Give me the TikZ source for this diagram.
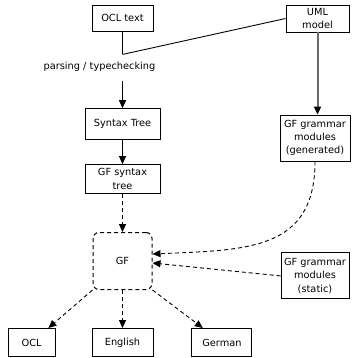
\documentclass[tikz,border=0pt]{standalone}
\usepackage{fontspec}
\setmainfont{DejaVu Sans}
\usetikzlibrary{arrows.meta,positioning}

\definecolor{umlgray}{RGB}{105,105,105}

\begin{document}
\begin{tikzpicture}[
        x=1pt, y=1pt,
        box/.style={
            draw,
            line width=0.9pt,
            align=center,
            inner sep=1pt,
            font=\fontsize{9.8}{13.3}\selectfont
        },
        label/.style={
            align=center,
            inner sep=0pt,
            font=\fontsize{9.8}{13.3}\selectfont
        },
        gfbox/.style={
            box,
            line width=1pt,
            dash pattern=on 4pt off 3pt,
            rounded corners=6pt
        },
        flow/.style={-{Triangle[length=8pt,width=7pt]},line width=0.9pt},
        dflow/.style={flow,dash pattern=on 4pt off 3pt},
        gflow/.style={-{Triangle[length=8pt,width=7pt,color=black]},
            draw=umlgray,line width=2pt},
        node distance=24pt
    ]

        \path[use as bounding box] (0,0) rectangle (351,-358);

        \node[box, minimum width=61pt, minimum height=26pt]
            (ocltext) at (122.5,-18) {OCL text};
        \node[box, minimum width=63pt, minimum height=27pt]
            (uml) at (317.5,-18.5) {UML\\model};

        \coordinate[below=23pt of ocltext] (join);
        \node[label, minimum height=28pt]
            (parse) at (99.5,-67) {parsing / typechecking};

        \node[box, below=27pt of parse, xshift=23pt,
              minimum width=75pt, minimum height=31pt]
            (syntax) {Syntax Tree};
        \node[box, below=of syntax, minimum width=75pt, minimum height=29pt]
            (gfsyntax) {GF syntax\\tree};
        \node[gfbox, below=38pt of gfsyntax, minimum width=59pt, minimum height=57pt]
            (gf) {GF};

        \node[box, below=38pt of gf, minimum width=61pt, minimum height=28pt]
            (english) {English};
        \node[box, left=36pt of english, minimum width=47pt, minimum height=28pt]
            (ocl) {OCL};
        \node[box, right=38pt of english, minimum width=60pt, minimum height=28pt]
            (german) {German};

        \node[box, minimum width=70pt, minimum height=46pt]
            (gen) at (315,-138) {GF grammar\\modules\\(generated)};
        \node[box, below=91pt of gen, minimum width=68pt, minimum height=46pt]
            (static) {GF grammar\\modules\\(static)};

        \draw[line width=0.9pt] (ocltext) -- (join);
        \draw[line width=0.9pt] (uml.west) -- (join);

        \draw[flow] (parse.south -| syntax) -- (syntax);
        \draw[flow] (syntax) -- (gfsyntax);
        \draw[dflow] (gfsyntax) -- (gf);
        \draw[gflow] (uml) -- (uml |- gen.north);

        % Curve from the generated modules into GF.
        \draw[dflow] (gen.south)
            .. controls +(0,-89) and +(95,4) .. ([yshift=7pt]gf.east);
        \draw[dflow] (static.west) -- ([yshift=-2pt]gf.east);

        \draw[dflow] (gf.south west) -- (ocl);
        \draw[dflow] (gf) -- (english);
        \draw[dflow] (gf.south east) -- (german);

    \end{tikzpicture}
\end{document}
